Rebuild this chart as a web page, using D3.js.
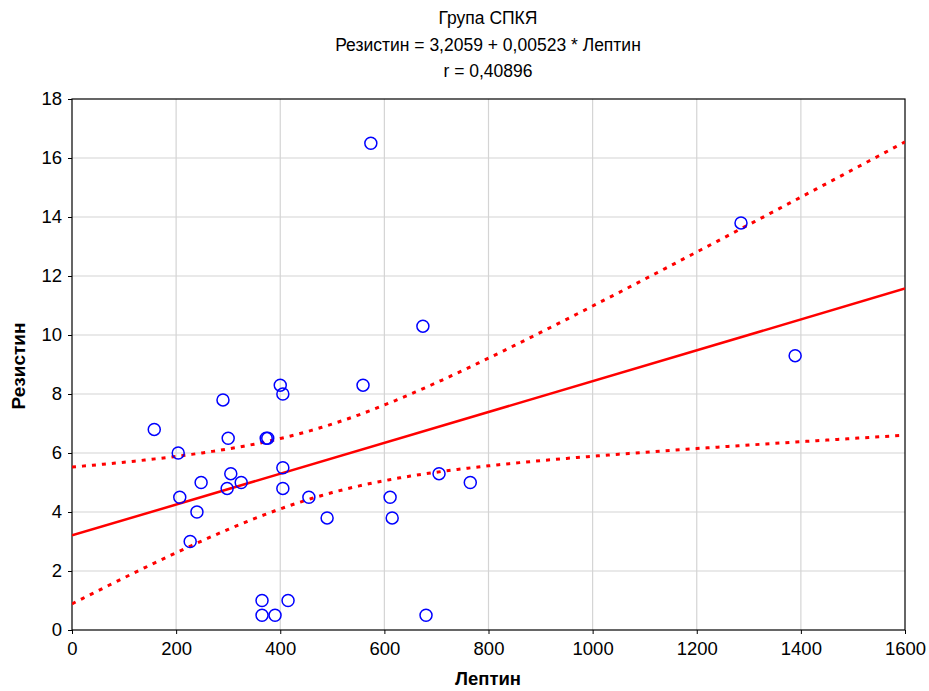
<!DOCTYPE html>
<html><head><meta charset="utf-8">
<script src="https://cdn.jsdelivr.net/npm/d3@7"></script>
<style>body{margin:0;background:#fff}svg{display:block}text{font-family:"Liberation Sans",Arial,sans-serif}</style>
</head><body>
<svg id="c" width="929" height="691"></svg>
<script>
const titleLines = ["Група СПКЯ", "Резистин = 3,2059 + 0,00523 * Лептин", "r = 0,40896"];
const xLabel = "Лептин";
const yLabel = "Резистин";
const xTicks = [0,200,400,600,800,1000,1200,1400,1600];
const yTicks = [0,2,4,6,8,10,12,14,16,18];
const leptin   = [158,204,207,227,240,248,290,298,300,305,325,373,376,365,365,390,415,400,405,405,405,455,490,559,574,611,615,674,680,705,765,1285,1389];
const resistin = [6.8,6.0,4.5,3.0,4.0,5.0,7.8,4.8,6.5,5.3,5.0,6.5,6.5,1.0,0.5,0.5,1.0,8.3,8.0,5.5,4.8,4.5,3.8,8.3,16.5,4.5,3.8,10.3,0.5,5.3,5.0,13.8,9.3];
const intercept = 3.2059, slope = 0.00523;

const svg = d3.select("#c");
const L=72,R=905,T=99,B=630;
const x = d3.scaleLinear().domain([0,1600]).range([L,R]);
const y = d3.scaleLinear().domain([0,18]).range([B,T]);

// grid
svg.append("g").selectAll("line").data(xTicks.slice(1,-1)).join("line")
  .attr("x1",d=>x(d)).attr("x2",d=>x(d)).attr("y1",T).attr("y2",B)
  .attr("stroke","#d4d4d4").attr("stroke-width",1.2);
svg.append("g").selectAll("line").data(yTicks.slice(1,-1)).join("line")
  .attr("y1",d=>y(d)).attr("y2",d=>y(d)).attr("x1",L).attr("x2",R)
  .attr("stroke","#d4d4d4").attr("stroke-width",1.2);

// axes
const xa = svg.append("g").attr("transform",`translate(0,${B})`)
  .call(d3.axisBottom(x).tickValues(xTicks).tickSize(4).tickSizeOuter(0).tickPadding(8).tickFormat(d3.format("d")));
const ya = svg.append("g").attr("transform",`translate(${L},0)`)
  .call(d3.axisLeft(y).tickValues(yTicks).tickSize(4).tickSizeOuter(0).tickPadding(6).tickFormat(d3.format("d")));
[xa,ya].forEach(a=>{a.select(".domain").remove();a.selectAll("text").attr("font-size",18.5).attr("fill","#000").attr("font-family","Liberation Sans, Arial, sans-serif");a.selectAll("line").attr("stroke","#000");});
svg.append("rect").attr("x",L).attr("y",T).attr("width",R-L).attr("height",B-T)
  .attr("fill","none").attr("stroke","#000").attr("stroke-width",1.2);

// regression & confidence band computed from data
const n = leptin.length;
const xbar = d3.mean(leptin);
const Sxx = d3.sum(leptin,v=>(v-xbar)**2);
const sse = d3.sum(leptin.map((v,i)=>(resistin[i]-(intercept+slope*v))**2));
const s = Math.sqrt(sse/(n-2));
const tval = 2.04;
const xs = d3.range(0,1601,10);
const fit = v=>intercept+slope*v;
const hw = v=>tval*s*Math.sqrt(1/n+(v-xbar)**2/Sxx);
svg.append("clipPath").attr("id","cp").append("rect").attr("x",L).attr("y",T).attr("width",R-L).attr("height",B-T);
const g = svg.append("g").attr("clip-path","url(#cp)");
const line = d3.line().x(d=>x(d[0])).y(d=>y(d[1]));
g.append("path").attr("d",line(xs.map(v=>[v,fit(v)+hw(v)]))).attr("fill","none").attr("stroke","#f00").attr("stroke-width",3).attr("stroke-dasharray","4,6");
g.append("path").attr("d",line(xs.map(v=>[v,fit(v)-hw(v)]))).attr("fill","none").attr("stroke","#f00").attr("stroke-width",3).attr("stroke-dasharray","4,6");
g.append("path").attr("d",line([[0,fit(0)],[1600,fit(1600)]])).attr("fill","none").attr("stroke","#f00").attr("stroke-width",2.5);

// points
g.selectAll("circle.p").data(leptin).join("circle").attr("class","p")
  .attr("cx",d=>x(d)).attr("cy",(d,i)=>y(resistin[i])).attr("r",6)
  .attr("fill","none").attr("stroke","#0000ff").attr("stroke-width",1.5);

// titles
svg.append("g").selectAll("text").data(titleLines).join("text")
  .attr("x",488).attr("y",(d,i)=>24+i*26.5).attr("text-anchor","middle").attr("font-size",17.5).text(d=>d);
svg.append("text").attr("x",488).attr("y",685).attr("text-anchor","middle").attr("font-size",18.5).attr("font-weight","bold").text(xLabel);
svg.append("text").attr("transform","translate(25,366) rotate(-90)").attr("text-anchor","middle").attr("font-size",19).attr("font-weight","bold").text(yLabel);
</script>
</body></html>
